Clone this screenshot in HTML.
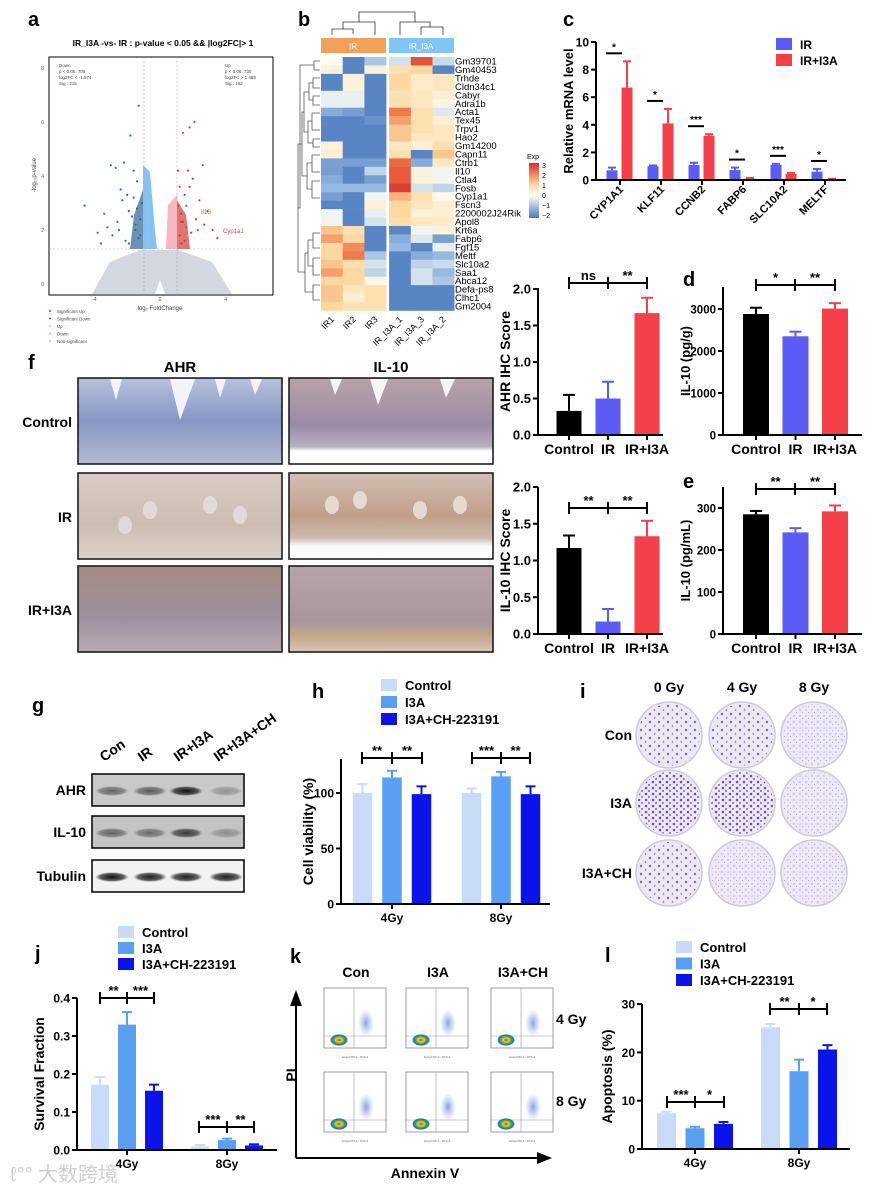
<!DOCTYPE html>
<html><head><meta charset="utf-8">
<style>
html,body{margin:0;padding:0;background:#fff;}
svg{display:block;font-family:"Liberation Sans",Arial,sans-serif;}
.b{font-weight:bold;}
</style></head>
<body>
<svg id="fig" width="883" height="1187" viewBox="0 0 883 1187" xmlns="http://www.w3.org/2000/svg">
<defs>
  <linearGradient id="hmGrad" x1="0" y1="1" x2="0" y2="0">
    <stop offset="0" stop-color="#4a78bd"/><stop offset="0.4" stop-color="#fdfdf2"/>
    <stop offset="0.6" stop-color="#fdd9a0"/><stop offset="1" stop-color="#d7302a"/>
  </linearGradient>
  <linearGradient id="ahrCtl" x1="0" y1="0" x2="0" y2="1"><stop offset="0" stop-color="#b8c2dd"/><stop offset="0.5" stop-color="#8696c4"/><stop offset="1" stop-color="#b6bbd2"/></linearGradient>
  <linearGradient id="ahrIR" x1="0" y1="0" x2="0" y2="1"><stop offset="0" stop-color="#d9cdc2"/><stop offset="0.6" stop-color="#cbbdb2"/><stop offset="1" stop-color="#ddd3cb"/></linearGradient>
  <linearGradient id="ahrI3A" x1="0" y1="0" x2="0" y2="1"><stop offset="0" stop-color="#a58c80"/><stop offset="0.6" stop-color="#9d8f9e"/><stop offset="1" stop-color="#b8aab0"/></linearGradient>
  <linearGradient id="ilCtl" x1="0" y1="0" x2="0" y2="1"><stop offset="0" stop-color="#b8a3a8"/><stop offset="0.55" stop-color="#9b8aa6"/><stop offset="0.8" stop-color="#b9b0c2"/><stop offset="0.85" stop-color="#ffffff"/><stop offset="1" stop-color="#ffffff"/></linearGradient>
  <linearGradient id="ilIR" x1="0" y1="0" x2="0" y2="1"><stop offset="0" stop-color="#d2bfb4"/><stop offset="0.5" stop-color="#c09f8a"/><stop offset="0.75" stop-color="#cdb9ad"/><stop offset="0.85" stop-color="#fafafa"/><stop offset="1" stop-color="#ffffff"/></linearGradient>
  <linearGradient id="ilI3A" x1="0" y1="0" x2="0" y2="1"><stop offset="0" stop-color="#b7a4a8"/><stop offset="0.65" stop-color="#a8969d"/><stop offset="0.8" stop-color="#c2a488"/><stop offset="1" stop-color="#d8c6b6"/></linearGradient>
  <pattern id="dotsA" width="9" height="8" patternUnits="userSpaceOnUse"><circle cx="2" cy="2" r="1.2" fill="#6a45c4"/><circle cx="6.5" cy="6" r="0.9" fill="#7d5ccc"/></pattern>
  <pattern id="dotsB" width="7" height="6" patternUnits="userSpaceOnUse"><circle cx="2" cy="2" r="1.3" fill="#5b33c0"/><circle cx="5" cy="5" r="1" fill="#6d48c6"/></pattern>
  <pattern id="dotsC" width="6" height="6" patternUnits="userSpaceOnUse"><circle cx="2" cy="2" r="0.6" fill="#8c72cf"/><circle cx="4.5" cy="4.5" r="0.5" fill="#9a83d4"/></pattern>
  <radialGradient id="flowBlob"><stop offset="0" stop-color="#e53a1f"/><stop offset="0.35" stop-color="#f0d020"/><stop offset="0.6" stop-color="#2fb34a"/><stop offset="0.85" stop-color="#2a5fd0"/><stop offset="1" stop-color="#2a5fd0" stop-opacity="0"/></radialGradient>
  <radialGradient id="flowUR"><stop offset="0" stop-color="#5a7ad8" stop-opacity="0.7"/><stop offset="1" stop-color="#8aa0e0" stop-opacity="0"/></radialGradient>
  <radialGradient id="bandG"><stop offset="0" stop-color="#111"/><stop offset="0.7" stop-color="#333" stop-opacity="0.8"/><stop offset="1" stop-color="#555" stop-opacity="0"/></radialGradient>
</defs>
</svg>
<script>
// ---------------- DATA ----------------
const ihcCats = ['Control','IR','IR+I3A'];
const ahrVals = [0.33, 0.50, 1.67];
const ahrErr  = [0.22, 0.23, 0.21];
const il10IhcVals = [1.17, 0.17, 1.33];
const il10IhcErr  = [0.17, 0.17, 0.21];
const dVals = [2880, 2350, 3010];
const dErr  = [150, 110, 130];
const eVals = [285, 242, 292];
const eErr  = [8, 10, 14];
const ahrTicks = [0,0.5,1,1.5,2];
const dTicks = [0,1000,2000,3000];
const eTicks = [0,100,200,300];

const cGenes = ['CYP1A1','KLF11','CCNB2','FABP6','SLC10A2','MELTF'];
const cIR    = [0.70, 1.00, 1.10, 0.72, 1.10, 0.60];
const cIRerr = [0.20, 0.05, 0.15, 0.18, 0.07, 0.20];
const cI3A   = [6.70, 4.10, 3.20, 0.10, 0.45, 0.05];
const cI3Aerr= [1.90, 1.05, 0.12, 0.05, 0.06, 0.04];
const cStars = ['*','*','***','*','***','*'];
const cTicks = [0,2,4,6,8,10];

const doseGroups = ['4Gy','8Gy'];
const seriesNames = ['Control','I3A','I3A+CH-223191'];
const hVals = [[100,114,99],[100,115,99]];
const hErr  = [[8,6,7],[4,4,7]];
const hTicks = [0,50,100];
const jVals = [[0.172,0.330,0.156],[0.009,0.026,0.012]];
const jErr  = [[0.020,0.033,0.016],[0.004,0.004,0.003]];
const jTicks = [0,0.1,0.2,0.3,0.4];
const lVals = [[7.4,4.3,5.2],[25.2,16.1,20.6]];
const lErr  = [[0.3,0.3,0.4],[0.7,2.4,0.9]];
const lTicks = [0,10,20,30];

const hmGenes = ['Gm39701','Gm40453','Trhde','Cldn34c1','Cabyr','Adra1b','Acta1','Tex45','Trpv1','Hao2','Gm14200','Capn11','Ctrb1','Il10','Ctla4','Fosb','Cyp1a1','Fscn3','2200002J24Rik','Apol8','Krt6a','Fabp6','Fgf15','Meltf','Slc10a2','Saa1','Abca12','Defa-ps8','Clhc1','Gm2004'];
const hmSamples = ['IR1','IR2','IR3','IR_I3A_1','IR_I3A_3','IR_I3A_2'];
const hmValues = [
[0,-1.8,-0.8,-0.4,2.5,-0.5],[0.3,-1.8,0.3,0.8,1,-1.8],[-1.8,0.3,-1.8,1,0.5,0.6],[-1.8,0.3,-1.8,1,0.5,0.6],
[-0.2,-0.2,-1.8,0.8,0.6,0.4],[-0.2,-0.2,-1.8,0.8,0.6,0.2],[-1.2,-1.4,-1.8,2,0.8,-0.3],[-1.8,-1.8,-1.6,1.6,0.8,0.4],
[-1.8,-1.8,-1.8,1.2,0.8,0.6],[-1.8,-1.8,-1.8,1.2,0.6,0.6],[0.3,-1.8,-1.8,0.6,0.4,0.8],[0.4,-1.8,-1.8,0.8,-1.8,1.2],
[-1.4,-1.4,-1.4,2.2,-1.2,0.6],[-1.4,-1.8,-0.6,2.4,0.3,-0.1],[-1.2,-1.8,-1.4,2.4,0.3,-0.1],[-1,-1,-1,2.8,-0.4,-0.6],
[-1.4,-1.8,-0.1,1.4,0.8,0.1],[-1.8,-1.8,0.3,1,0.6,0.4],[-0.1,-1.8,-0.2,1,0.3,0.4],[-0.1,-1.8,-0.4,0.9,0.6,0.5],
[1.2,0.8,-1.8,-1.8,-0.1,0.3],[1.6,1,-1.8,-1.2,-0.3,-1.4],[1,1.8,-1.8,-1,-1.8,-0.2],[1,2,-0.8,-1.8,-1.2,-1],
[1.2,0.9,-0.4,-1.8,-0.6,-0.5],[1.6,1,-0.6,-1.8,-0.4,-1],[1,1,0.2,-1.8,-0.4,-0.8],[1.2,0.6,0.8,-1.8,-1.8,-1.8],
[1.2,0.4,0.8,-1.8,-1.8,-1.8],[1,0.8,0.8,-1.8,-1.8,-1.8]];

const volDownFC = [-4.6,-3.8,-3.4,-3.2,-2.9,-2.6,-2.4,-2.2,-2.0,-1.9,-1.8,-1.6,-1.5,-1.4,-1.3,-1.2,-1.1,-3.0,-2.7,-2.3,-2.1,-1.7,-1.5,-1.3,-1.2,-3.6,-2.5,-1.9,-1.6,-1.4];
const volDownP  = [2.9,1.9,2.6,2.1,1.8,2.3,3.5,4.5,3.3,2.7,5.5,4.2,2.2,3.8,6.6,1.8,3.0,4.4,4.3,3.1,1.6,2.5,2.0,1.7,2.4,1.5,2.0,1.5,3.2,2.8];
const volUpFC = [1.1,1.2,1.3,1.5,1.6,1.8,2.0,2.2,2.4,1.2,1.4,1.7,1.9,2.6,2.9,3.2,3.5,1.3,1.6,2.1,1.5,1.1,2.3,2.7,1.8,1.3,1.4];
const volUpP  = [4.2,3.6,2.6,3.3,2.1,5.8,3.9,2.4,3.1,1.8,5.6,4.2,1.9,4.4,2.7,2.0,1.7,2.3,2.9,6.0,1.6,2.9,2.0,2.2,3.6,1.5,2.3];

// ---------------- HELPERS ----------------
const NS='http://www.w3.org/2000/svg';
const svg=document.getElementById('fig');
function mk(tag,attrs,parent){const e=document.createElementNS(NS,tag);for(const k in attrs)e.setAttribute(k,attrs[k]);(parent||svg).appendChild(e);return e;}
function tx(x,y,s,size,opts,parent){const o=Object.assign({x:x,y:y,'font-size':size},opts||{});const e=mk('text',o,parent);e.textContent=s;return e;}
function ln(x1,y1,x2,y2,stroke,w,parent){return mk('line',{x1:x1,y1:y1,x2:x2,y2:y2,stroke:stroke,'stroke-width':w},parent);}

function panelLabel(x,y,s){
  const t=tx(x,y,s,20,{'font-weight':'bold'});
  
  
}
function bracket(g,x1,x2,x3,y,s1,s2){
  ln(x1,y,x3,y,'#000',2,g);
  [x1,x2,x3].forEach(x=>ln(x,y-6,x,y+6,'#000',2,g));
  tx((x1+x2)/2,y-3,s1,13,{'text-anchor':'middle','font-weight':'bold'},g);
  tx((x2+x3)/2,y-3,s2,13,{'text-anchor':'middle','font-weight':'bold'},g);
}
function yAxis(g,ax,ticks,fmt,fs){
  const Y=v=>ax.y0-v*ax.k;
  ln(ax.x0,ax.top,ax.x0,ax.y0+1,'#000',2,g);
  ticks.forEach(t=>{ln(ax.x0-5,Y(t),ax.x0,Y(t),'#000',2,g);
    tx(ax.x0-7,Y(t)+4.5,fmt(t),ax.tickFs||fs,{'text-anchor':'end','font-weight':'bold'},g);});
  ln(ax.x0,ax.y0,ax.x1,ax.y0,'#000',2,g);
  const tl=tx(ax.tx,(ax.y0+ax.top)/2,ax.title,ax.tfs||14,{'text-anchor':'middle','font-weight':'bold',transform:'rotate(-90 '+ax.tx+' '+((ax.y0+ax.top)/2)+')'},g);
  
  
}
function errBar(g,x,y1,y2,col,cap){ln(x,y1,x,y2,col,2,g);ln(x-cap,y2,x+cap,y2,col,2,g);}

function simpleBars(name,ax,vals,errs,cats,colors,ticks,fmt){
  const g=mk('g',{});
  
  
  const Y=v=>ax.y0-v*ax.k;
  const X=i=>ax.c0+i*ax.step;
  vals.forEach((v,i)=>{
    errBar(g,X(i),Y(v),Y(v+errs[i]),colors[i],6);
    const r=mk('rect',{x:X(i)-ax.bw/2,y:Y(v),width:ax.bw,height:Y(0)-Y(v),fill:colors[i]},g);
    
    
    ln(X(i),ax.y0,X(i),ax.y0+5,'#000',2,g);
    tx(X(i),ax.y0+19,cats[i],14,{'text-anchor':'middle','font-weight':'bold'},g);
  });
  yAxis(g,ax,ticks,fmt,13);
  return g;
}
function groupBars(name,ax,vals,errs,groups,colors,ticks,fmt){
  const g=mk('g',{});
  
  
  const Y=v=>ax.y0-v*ax.k;
  const X=(gi,si)=>ax.c0+gi*ax.gstep+(si-1)*ax.sstep;
  groups.forEach((gr,gi)=>{
    vals[gi].forEach((v,si)=>{
      errBar(g,X(gi,si),Y(v),Y(v+errs[gi][si]),colors[si],5);
      const r=mk('rect',{x:X(gi,si)-ax.bw/2,y:Y(v),width:ax.bw,height:Math.max(0,Y(0)-Y(v)),fill:colors[si]},g);
      
      
    });
    const cx=ax.c0+gi*ax.gstep;
    ln(cx,ax.y0,cx,ax.y0+5,'#000',2,g);
    tx(cx,ax.y0+18,gr,12,{'text-anchor':'middle','font-weight':'bold'},g);
  });
  yAxis(g,ax,ticks,fmt,12);
  return g;
}
function legend(x,y,names,colors,dy,fs){
  const g=mk('g',{});
  
  
  names.forEach((n,i)=>{
    const r=mk('rect',{x:x,y:y+i*dy-6,width:16,height:12,fill:colors[i]},g);
    
    
    tx(x+24,y+i*dy+5,n,fs,{'font-weight':'bold'},g);
  });
}

const C3=['#000000','#5b5bf5','#f5404a'];
const B3=['#c8dbf7','#59a0f3','#0a14ea'];

// ---------------- PANEL a (volcano) ----------------
(function(){
  panelLabel(28,26,'a');
  const g=mk('g',{});
  
  
  const vx=f=>160+f*16.4, vy=p=>284-p*27;
  tx(163,46,'IR_I3A -vs- IR : p-value < 0.05 && |log2FC|> 1',8.5,{'text-anchor':'middle','font-weight':'bold'},g);
  mk('rect',{x:49,y:57,width:224,height:238,fill:'#fff',stroke:'#000','stroke-width':1},g);
  mk('path',{d:'M92 294 L110 262 L140 250 L178 250 L212 262 L232 294 L165 294 L160 280 L155 294 Z',fill:'#d3d7e0'},g);
  mk('path',{d:'M143 249 L143 165 L150 172 L155 230 L157 249 Z',fill:'#85c4f2'},g);
  mk('path',{d:'M166 249 L168 205 L177 195 L177 249 Z',fill:'#f7b6c3'},g);
  mk('path',{d:'M130 249 L134 215 L143 190 L143 249 Z',fill:'#3e6d9e',opacity:0.75},g);
  mk('path',{d:'M177 249 L177 200 L186 215 L190 249 Z',fill:'#d8463f',opacity:0.75},g);
  volDownFC.forEach((f,i)=>{const c=mk('circle',{cx:vx(f),cy:vy(volDownP[i]),r:1.1,fill:'#356a9c'},g);
    });
  volUpFC.forEach((f,i)=>{const c=mk('circle',{cx:vx(f),cy:vy(volUpP[i]),r:1.1,fill:'#d63a36'},g);
    });
  mk('line',{x1:144,y1:57,x2:144,y2:295,stroke:'#aaa','stroke-dasharray':'2,2','stroke-width':0.6},g);
  mk('line',{x1:177,y1:57,x2:177,y2:295,stroke:'#aaa','stroke-dasharray':'2,2','stroke-width':0.6},g);
  mk('line',{x1:49,y1:249,x2:273,y2:249,stroke:'#aaa','stroke-dasharray':'2,2','stroke-width':0.6},g);
  [0,2,4,6,8].forEach(t=>{tx(44,vy(t)+2,String(t),5,{'text-anchor':'end',fill:'#555'},g);});
  [-4,0,4].forEach(t=>{tx(vx(t),301,String(t),5,{'text-anchor':'middle',fill:'#555'},g);});
  tx(160,310,'log₂ FoldChange',6,{'text-anchor':'middle',fill:'#444'},g);
  tx(36,175,'-log₁₀p-value',6,{'text-anchor':'middle',fill:'#444',transform:'rotate(-90 36 175)'},g);
  ['Down','p < 0.05: 708','log2FC < -1.574','Sig.: 215'].forEach((s,i)=>tx(59,67+i*6,s,4.5,{fill:'#444'},g));
  ['Up','p < 0.05: 730','log2FC > 1.489','Sig.: 162'].forEach((s,i)=>tx(225,67+i*6,s,4.5,{fill:'#444'},g));
  tx(201,214,'Il10',6,{fill:'#d64a44'},g);
  tx(223,233,'Cyp1a1',6,{fill:'#d64a44'},g);
  const lc=['#d63a36','#356a9c','#f7b6c3','#85c4f2','#c8ccd6'];
  ['Significant Up','Significant Down','Up','Down','Non-significant'].forEach((s,i)=>{
    mk('circle',{cx:50,cy:311+i*7.5,r:1,fill:lc[i]},g);tx(57,313+i*7.5,s,4.5,{fill:'#444'},g);});
})();

// ---------------- PANEL b (heatmap) ----------------
(function(){
  panelLabel(298,26,'b');
  const g=mk('g',{});
  
  
  const colX=i=>321+i*21.7+(i>=3?3:0), rowY=r=>57+r*8.45, cw=21.7, rh=8.45;
  function col(v){
    const stops=[[-2,[74,120,189]],[-1,[150,185,225]],[0,[253,253,242]],[1,[253,217,160]],[2,[240,120,75]],[3,[215,48,42]]];
    v=Math.max(-2,Math.min(3,v));
    for(let i=0;i<stops.length-1;i++){const a=stops[i],b=stops[i+1];if(v<=b[0]){const t=(v-a[0])/(b[0]-a[0]);
      return 'rgb('+a[1].map((c,k)=>Math.round(c+(b[1][k]-c)*t)).join(',')+')';}}
    return 'rgb(215,48,42)';
  }
  hmValues.forEach((row,r)=>{row.forEach((v,c)=>{
    const cell=mk('rect',{x:colX(c),y:rowY(r),width:cw+0.3,height:rh+0.3,fill:col(v)},g);
    
    
  });
    tx(455,rowY(r)+7.5,hmGenes[r],9.5,{},g);
  });
  hmSamples.forEach((s,c)=>{const cx=colX(c)+cw/2+3, y=320;
    tx(cx,y,s,9,{'text-anchor':'end',transform:'rotate(-45 '+cx+' '+y+')'},g);});
  mk('rect',{x:321,y:38,width:65,height:15,fill:'#f2a05a'},g);
  tx(353,49,'IR',8,{'text-anchor':'middle',fill:'#fff'},g);
  mk('rect',{x:389,y:38,width:65,height:15,fill:'#7fc5f5'},g);
  tx(421,49,'IR_I3A',8,{'text-anchor':'middle',fill:'#fff'},g);
  mk('path',{d:'M332 35 V29 H353 V34 M343 29 V22 H375 V35 M359 22 V12 H415 V22 M400 35 V22 H430 V27 M421 35 V27 H443 V35',fill:'none',stroke:'#333','stroke-width':0.8},g);
  mk('path',{d:'M320 61 H314 V70 H320 M320 78 H313 V88 H320 M320 96 H313 V105 H320 M313 83 H309 V100 H313 M320 113 H312 V130 H320 M320 139 H313 V147 H320 M312 121 H308 V143 H313 M308 132 H304 V92 H309 M320 155 H312 V172 H320 M320 181 H312 V198 H320 M312 163 H307 V189 H312 M307 176 H302 V112 H304 M320 233 H313 V248 H320 M320 258 H313 V275 H320 M313 240 H308 V266 H313 M320 285 H313 V300 H320 M308 253 H305 V292 H313 M302 144 H298 V272 H305 M314 65 H300 V208 H298',fill:'none',stroke:'#555','stroke-width':0.8},g);
  tx(527,159,'Exp',7,{},g);
  mk('rect',{x:529,y:163,width:10,height:55,fill:'url(#hmGrad)'},g);
  ['3','2','1','0','−1','−2'].forEach((s,i)=>tx(542,168+i*10,s,7,{},g));
})();

// ---------------- PANEL c ----------------
(function(){
  panelLabel(563,26,'c');
  const g=mk('g',{});
  
  
  const ax={x0:596,x1:846,y0:180,top:42,k:13.8,title:'Relative mRNA level',tx:573,tfs:14};
  const Y=v=>ax.y0-v*ax.k, X=i=>620+i*41;
  cGenes.forEach((gn,i)=>{
    [[cIR,cIRerr,'#5b5bf5',-8],[cI3A,cI3Aerr,'#f5404a',7]].forEach(s=>{
      const v=s[0][i],x=X(i)+s[3];
      errBar(g,x,Y(v),Y(v+s[1][i]),s[2],4);
      const r=mk('rect',{x:x-5.5,y:Y(v),width:11,height:Y(0)-Y(v),fill:s[2]},g);
      
      
    });
    const top=Math.max(cI3A[i]+cI3Aerr[i],cIR[i]+cIRerr[i]);
    const sy=Y(top)-8;
    ln(X(i)-14,sy,X(i)+2,sy,'#000',2,g);
    tx(X(i)-6,sy-3,cStars[i],10,{'text-anchor':'middle','font-weight':'bold'},g);
    ln(X(i),ax.y0,X(i),ax.y0+5,'#000',2,g);
    const lx=X(i)+4,ly=190;
    tx(lx,ly,gn,11,{'text-anchor':'end','font-weight':'bold',transform:'rotate(-45 '+lx+' '+ly+')'},g);
  });
  ln(ax.x0,ax.top,ax.x0,ax.y0+1,'#000',2,g);
  cTicks.forEach(t=>{ln(ax.x0-5,Y(t),ax.x0,Y(t),'#000',2,g);tx(ax.x0-7,Y(t)+4.5,String(t),12,{'text-anchor':'end','font-weight':'bold'},g);});
  ln(ax.x0,ax.y0,ax.x1,ax.y0,'#000',2,g);
  tx(ax.tx,111,ax.title,13,{'text-anchor':'middle','font-weight':'bold',transform:'rotate(-90 '+ax.tx+' 111)'},g);
  legend(776,44,['IR','IR+I3A'],['#5b5bf5','#f5404a'],16,12);
})();

// ---------------- AHR / IL-10 IHC, d, e ----------------
simpleBars('ahr-ihc-chart',{x0:538,x1:663,y0:435,top:288,k:73,c0:569,step:39,bw:25,title:'AHR IHC Score',tx:510},ahrVals,ahrErr,ihcCats,C3,ahrTicks,t=>t.toFixed(1));
bracket(svg,569,608,647,283,'ns','**');
simpleBars('il10-ihc-chart',{x0:538,x1:663,y0:634,top:487,k:73.5,c0:569,step:39,bw:25,title:'IL-10 IHC Score',tx:510},il10IhcVals,il10IhcErr,ihcCats,C3,ahrTicks,t=>t.toFixed(1));
bracket(svg,569,608,647,508,'**','**');
panelLabel(683,286,'d');
simpleBars('il10-tissue-chart',{x0:723,x1:862,y0:435,top:287,k:0.042,c0:756,step:39.5,bw:26,title:'IL-10 (pg/g)',tx:690,tfs:13,tickFs:11.5},dVals,dErr,ihcCats,C3,dTicks,t=>String(t));
bracket(svg,756,795,835,285,'*','**');
panelLabel(683,488,'e');
simpleBars('il10-serum-chart',{x0:723,x1:862,y0:634,top:487,k:0.42,c0:756,step:39.5,bw:26,title:'IL-10 (pg/mL)',tx:690,tfs:13,tickFs:11.5},eVals,eErr,ihcCats,C3,eTicks,t=>String(t));
bracket(svg,756,795,835,489,'**','**');

// ---------------- PANEL f (IHC images) ----------------
(function(){
  panelLabel(28,369,'f');
  const g=mk('g',{});
  
  
  tx(180,372,'AHR',15,{'text-anchor':'middle','font-weight':'bold'},g);
  tx(391,372,'IL-10',15,{'text-anchor':'middle','font-weight':'bold'},g);
  const rows=[[378,'Control'],[473,'IR'],[566,'IR+I3A']];
  const fills=[['ahrCtl','ilCtl'],['ahrIR','ilIR'],['ahrI3A','ilI3A']];
  rows.forEach((r,ri)=>{
    tx(72,r[0]+49,r[1],14,{'text-anchor':'end','font-weight':'bold'},g);
    [[78,0],[289,1]].forEach(c=>{
      const im=mk('rect',{x:c[0],y:r[0],width:204,height:86,fill:'url(#'+fills[ri][c[1]]+')',stroke:'#111','stroke-width':1.5},g);
      
      
    });
  });
  mk('path',{d:'M110 379 L116 400 L122 379 Z M170 379 L180 420 L195 379 Z M215 379 L220 398 L226 379 Z M250 379 L255 395 L262 379 Z',fill:'#f4f4f8'},g);
  mk('path',{d:'M330 379 L335 395 L342 379 Z M370 379 L378 405 L388 379 Z M440 379 L446 398 L455 379 Z',fill:'#f6f4f4'},g);
  [[150,510],[210,505],[240,515],[125,525]].forEach(p=>mk('ellipse',{cx:p[0],cy:p[1],rx:7,ry:9,fill:'#e6e0e0',opacity:0.8},g));
  [[332,505],[360,500],[420,510],[460,505]].forEach(p=>mk('ellipse',{cx:p[0],cy:p[1],rx:7,ry:9,fill:'#eee6e2',opacity:0.8},g));
})();

// ---------------- PANEL g (western blot) ----------------
(function(){
  panelLabel(32,712,'g');
  const g=mk('g',{});
  
  
  const lanes=['Con','IR','IR+I3A','IR+I3A+CH'];
  const lx=[112,150,186,226];
  lanes.forEach((l,i)=>{const x=lx[i]-8,y=762;tx(x,y,l,14,{'font-weight':'bold',transform:'rotate(-35 '+x+' '+y+')'},g);});
  const rows=[['AHR',774,[0.55,0.6,1,0.3],'#c9c9c9'],['IL-10',816,[0.55,0.5,0.8,0.3],'#c4c4c4'],['Tubulin',860,[1,0.95,0.95,0.95],'#f2f2f2']];
  rows.forEach(r=>{
    tx(86,r[1]+21,r[0],14,{'text-anchor':'end','font-weight':'bold'},g);
    mk('rect',{x:92,y:r[1],width:152,height:32,fill:r[3],stroke:'#000','stroke-width':1.5},g);
    r[2].forEach((a,i)=>{
      const b=mk('ellipse',{cx:lx[i],cy:r[1]+17,rx:17,ry:5,fill:'url(#bandG)',opacity:a},g);
      
      
    });
  });
})();

// ---------------- PANEL h ----------------
panelLabel(312,698,'h');
legend(381,685,seriesNames,B3,17,13);
groupBars('cell-viability-chart',{x0:341,x1:550,y0:904,top:759,k:1.11,c0:392,gstep:109,sstep:29.5,bw:19.5,title:'Cell viability (%)',tx:313},hVals,hErr,doseGroups,B3,hTicks,t=>String(t));
bracket(svg,362,392,422,758,'**','**');
bracket(svg,472,501,530,758,'***','**');

// ---------------- PANEL i (colonies) ----------------
(function(){
  panelLabel(580,698,'i');
  const g=mk('g',{});
  
  
  const cx=[669,742,814], cy=[735,803,873];
  ['0 Gy','4 Gy','8 Gy'].forEach((s,i)=>tx(cx[i],692,s,14,{'text-anchor':'middle','font-weight':'bold'},g));
  ['Con','I3A','I3A+CH'].forEach((s,i)=>tx(632,cy[i]+5,s,14,{'text-anchor':'end','font-weight':'bold'},g));
  const pats=[['dotsA','dotsA','dotsC'],['dotsB','dotsB','dotsC'],['dotsA','dotsC','dotsC']];
  cy.forEach((y,r)=>cx.forEach((x,c)=>{
    const d=mk('circle',{cx:x,cy:y,r:33,fill:'#ece9f3',stroke:'#cfcadb','stroke-width':1.5},g);
    
    
    mk('circle',{cx:x,cy:y,r:31,fill:'url(#'+pats[r][c]+')',opacity:0.85},g);
  }));
})();

// ---------------- PANEL j ----------------
panelLabel(35,960,'j');
legend(118,932,seriesNames,B3,16,13);
groupBars('survival-fraction-chart',{x0:77,x1:277,y0:1150,top:998,k:380,c0:127,gstep:100,sstep:27,bw:18,title:'Survival Fraction',tx:44},jVals,jErr,doseGroups,B3,jTicks,t=>t.toFixed(1));
bracket(svg,100,127,154,998,'**','***');
bracket(svg,199,227,254,1127,'***','**');

// ---------------- PANEL k (flow cytometry) ----------------
(function(){
  panelLabel(290,963,'k');
  const g=mk('g',{});
  
  
  const cols=[324,406,491], rows=[988,1072];
  ['Con','I3A','I3A+CH'].forEach((s,i)=>tx(cols[i]+32,977,s,14,{'text-anchor':'middle','font-weight':'bold'},g));
  tx(556,1024,'4 Gy',14,{'font-weight':'bold'},g);
  tx(556,1106,'8 Gy',14,{'font-weight':'bold'},g);
  rows.forEach((y,r)=>cols.forEach((x,c)=>{
    const p=mk('rect',{x:x,y:y,width:62,height:60,fill:'#fff',stroke:'#888','stroke-width':0.8},g);
    
    
    ln(x+30,y,x+30,y+60,'#999',0.6,g);ln(x,y+48,x+62,y+48,'#999',0.6,g);
    mk('ellipse',{cx:x+42,cy:y+35,rx:8,ry:14,fill:'url(#flowUR)'},g);
    mk('ellipse',{cx:x+15,cy:y+52,rx:9,ry:6,fill:'url(#flowBlob)'},g);
    tx(x+31,y+70,'Comp-FITC-A :: FITC-A',2.5,{'text-anchor':'middle',fill:'#555'},g);
  }));
  mk('line',{x1:296,y1:1158,x2:296,y2:1003,stroke:'#000','stroke-width':2},g);
  mk('path',{d:'M290 1006 L296 990 L302 1006 Z',fill:'#000'},g);
  mk('line',{x1:296,y1:1158,x2:540,y2:1158,stroke:'#000','stroke-width':2},g);
  mk('path',{d:'M537 1152 L552 1158 L537 1164 Z',fill:'#000'},g);
  tx(291,1080,'PI',14,{'text-anchor':'middle','font-weight':'bold',transform:'rotate(-90 291 1075)'},g);
  tx(425,1178,'Annexin V',14,{'text-anchor':'middle','font-weight':'bold'},g);
})();

// ---------------- PANEL l ----------------
panelLabel(605,962,'l');
legend(676,947,seriesNames,B3,16.5,13);
groupBars('apoptosis-chart',{x0:642,x1:850,y0:1149,top:1004,k:4.83,c0:695,gstep:104,sstep:28.5,bw:19,title:'Apoptosis (%)',tx:612},lVals,lErr,doseGroups,B3,lTicks,t=>String(t));
bracket(svg,667,695,724,1102,'***','*');
bracket(svg,770,799,827,1009,'**','*');

(function(){
  const w=tx(10,1181,'ℓ°° 大数跨境',20,{fill:'#cfcfcf','font-family':'"Liberation Sans","Noto Sans CJK SC",sans-serif'});
  
  
})();
</script>
</body></html>
